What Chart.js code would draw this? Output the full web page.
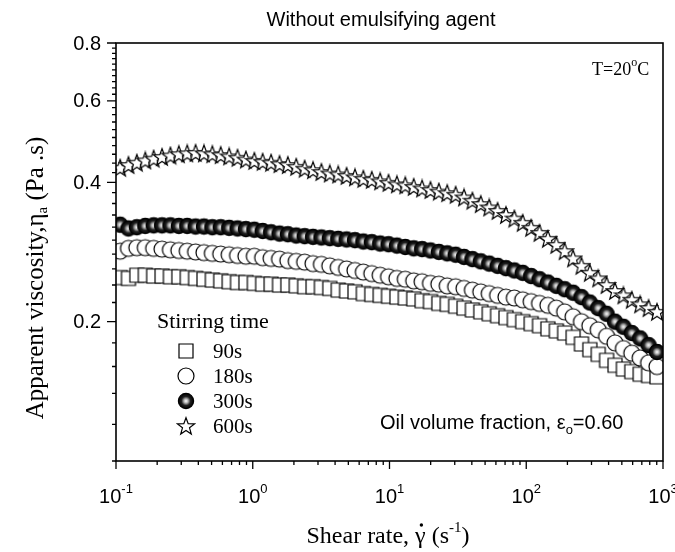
<!DOCTYPE html>
<html>
<head>
<meta charset="utf-8">
<script src="https://cdn.jsdelivr.net/npm/chart.js@4.4.1/dist/chart.umd.min.js"></script>
<style>
body{margin:0;background:#fff;}
#contenedor{width:675px;height:552px;}
</style>
</head>
<body>
<div id="contenedor"><canvas id="grafica"></canvas></div>
<script>
//datos
const shearRate=[0.1072,0.1234,0.1421,0.1637,0.1885,0.2171,0.2500,0.2880,0.3317,0.3820,0.4399,0.5066,0.5834,0.6719,0.7738,0.8913,
1.027,1.182,1.362,1.569,1.806,2.080,2.396,2.760,3.178,3.660,4.215,4.856,5.591,6.440,7.417,8.542,
9.838,11.33,13.05,15.03,17.31,19.94,22.96,26.44,30.45,35.07,40.40,46.52,53.58,61.71,71.07,81.85,
94.26,108.6,125.0,144.0,165.9,191.0,220.0,253.4,291.7,336.0,387.0,445.8,513.3,591.2,680.9,784.3,903.3];
const visc90=[0.249,0.248,0.252,0.252,0.251,0.251,0.250,0.250,0.249,0.248,0.247,0.246,0.245,0.244,0.243,0.243,
0.242,0.241,0.241,0.240,0.240,0.239,0.238,0.238,0.237,0.236,0.234,0.233,0.232,0.230,0.229,0.228,
0.227,0.226,0.225,0.224,0.222,0.221,0.219,0.218,0.216,0.214,0.212,0.210,0.208,0.206,0.204,0.202,
0.200,0.198,0.196,0.193,0.191,0.189,0.185,0.179,0.174,0.170,0.165,0.161,0.158,0.156,0.154,0.153,0.152];
const visc180=[0.284,0.288,0.289,0.289,0.288,0.287,0.286,0.285,0.284,0.283,0.282,0.281,0.280,0.279,0.278,0.277,
0.277,0.275,0.274,0.273,0.271,0.270,0.269,0.267,0.266,0.264,0.262,0.260,0.258,0.256,0.254,0.252,
0.250,0.248,0.247,0.245,0.244,0.242,0.241,0.239,0.238,0.236,0.234,0.232,0.230,0.228,0.226,0.225,
0.223,0.221,0.219,0.217,0.214,0.210,0.205,0.200,0.196,0.192,0.186,0.180,0.175,0.171,0.167,0.163,0.160];
const visc300=[0.324,0.318,0.320,0.322,0.323,0.323,0.323,0.322,0.322,0.321,0.321,0.320,0.320,0.319,0.318,0.317,
0.316,0.314,0.312,0.310,0.309,0.307,0.306,0.305,0.304,0.303,0.302,0.301,0.300,0.298,0.297,0.295,
0.294,0.292,0.290,0.288,0.287,0.285,0.283,0.281,0.279,0.276,0.273,0.270,0.267,0.264,0.261,0.258,
0.255,0.251,0.247,0.243,0.239,0.235,0.231,0.226,0.220,0.214,0.208,0.200,0.195,0.189,0.184,0.178,0.172];
const visc600=[0.430,0.436,0.441,0.446,0.450,0.454,0.457,0.460,0.462,0.463,0.462,0.460,0.458,0.455,0.452,0.448,
0.445,0.443,0.441,0.438,0.436,0.432,0.428,0.425,0.421,0.418,0.416,0.413,0.410,0.407,0.405,0.402,
0.399,0.396,0.394,0.391,0.388,0.385,0.382,0.379,0.376,0.371,0.365,0.359,0.353,0.347,0.340,0.334,
0.327,0.319,0.311,0.302,0.293,0.284,0.274,0.264,0.255,0.248,0.240,0.233,0.228,0.223,0.218,0.214,0.210];
const etiquetas=['90s','180s','300s','600s'];
const xMayores=[0.1,1,10,100,1000];
const xExponentes=['-1','0','1','2','3'];
const yMayores=[0.2,0.4,0.6,0.8];
const yEtiquetas=['0.2','0.4','0.6','0.8'];

const sans='"Liberation Sans", Arial, sans-serif';
const serif='"Liberation Serif", "Times New Roman", serif';

//marcadores dibujados a mano
function marcador(tipo){
  const c=document.createElement('canvas');
  c.width=20;c.height=20;
  const ctx=c.getContext('2d');
  ctx.lineWidth=1.2;
  ctx.strokeStyle='#000';
  ctx.fillStyle='#fff';
  ctx.beginPath();
  if(tipo=='cuadro'){
    ctx.rect(3,3,14,14);
    ctx.fill();ctx.stroke();
  }
  else if(tipo=='circulo'){
    ctx.arc(10,10,8,0,Math.PI*2);
    ctx.fill();ctx.stroke();
  }
  else if(tipo=='esfera'){
    const g=ctx.createRadialGradient(10,10,0,10,10,7.6);
    g.addColorStop(0,'#ffffff');
    g.addColorStop(0.28,'#b0b0b0');
    g.addColorStop(0.6,'#202020');
    g.addColorStop(1,'#000000');
    ctx.fillStyle=g;
    ctx.arc(10,10,7.6,0,Math.PI*2);
    ctx.fill();
    ctx.strokeStyle='#000';
    ctx.stroke();
  }
  else{
    for(let k=0;k<10;k++){
      const r=(k%2==0)?9:3.7;
      const a=-Math.PI/2+k*Math.PI/5;
      const px=10+r*Math.cos(a), py=10.7+r*Math.sin(a);
      if(k==0) ctx.moveTo(px,py); else ctx.lineTo(px,py);
    }
    ctx.closePath();
    ctx.fill();ctx.stroke();
  }
  return c;
}
const marcadores=[marcador('cuadro'),marcador('circulo'),marcador('esfera'),marcador('estrella')];

function puntos(serie){
  return shearRate.map((x,i)=>({x:x,y:serie[i]}));
}

//texto con sub/superindice: partes = [[texto, tamaño, desplazamiento]]
function textoCompuesto(ctx,partes,x,y,familia,centrado){
  let total=0;
  partes.forEach(p=>{ctx.font=p[1]+'px '+familia;total+=ctx.measureText(p[0]).width;});
  let cx=centrado?x-total/2:x;
  partes.forEach(p=>{
    ctx.font=p[1]+'px '+familia;
    ctx.fillText(p[0],cx,y+p[2]);
    cx+=ctx.measureText(p[0]).width;
  });
  return total;
}

const decorado={
  id:'decorado',
  afterDatasetsDraw(chart){
    const ctx=chart.ctx;
    const a=chart.chartArea;
    const sx=chart.scales.x, sy=chart.scales.y;
    ctx.save();
    ctx.strokeStyle='#000';
    ctx.fillStyle='#000';
    //marco
    ctx.lineWidth=1.6;
    ctx.strokeRect(a.left,a.top,a.right-a.left,a.bottom-a.top);
    //ticks x
    ctx.lineWidth=1.3;
    ctx.beginPath();
    xMayores.forEach((d,i)=>{
      const px=sx.getPixelForValue(d);
      ctx.moveTo(px,a.bottom);ctx.lineTo(px,a.bottom+8);
      if(i<xMayores.length-1){
        for(let m=2;m<=9;m++){
          const pm=sx.getPixelForValue(d*m);
          ctx.moveTo(pm,a.bottom);ctx.lineTo(pm,a.bottom+4);
        }
      }
    });
    //ticks y
    for(let v=0.1;v<=0.801;v+=0.02){
      const py=sy.getPixelForValue(v);
      ctx.moveTo(a.left,py);ctx.lineTo(a.left-4,py);
    }
    yMayores.forEach(v=>{
      const py=sy.getPixelForValue(v);
      ctx.moveTo(a.left,py);ctx.lineTo(a.left-9,py);
    });
    ctx.stroke();
    //etiquetas y
    ctx.textBaseline='middle';
    ctx.textAlign='right';
    ctx.font='20px '+sans;
    yMayores.forEach((v,i)=>{
      ctx.fillText(yEtiquetas[i],a.left-15,sy.getPixelForValue(v)+1);
    });
    //etiquetas x
    ctx.textAlign='left';
    xMayores.forEach((d,i)=>{
      textoCompuesto(ctx,[['10',20,0],[xExponentes[i],13,-8]],sx.getPixelForValue(d),a.bottom+36,sans,true);
    });
    //titulo
    textoCompuesto(ctx,[['Without emulsifying agent',20,0]],381,20,sans,true);
    //titulo eje x
    const wx=textoCompuesto(ctx,[['Shear rate, ',24,0],['\u03b3',24,0],[' (s',24,0],['-1',15,-9],[')',24,0]],388,537,serif,true);
    ctx.font='24px '+serif;
    const gx=388-wx/2+ctx.measureText('Shear rate, ').width+ctx.measureText('\u03b3').width/2;
    ctx.beginPath();
    ctx.arc(gx+1,525,1.7,0,Math.PI*2);
    ctx.fill();
    //titulo eje y
    ctx.save();
    ctx.translate(36,278);
    ctx.rotate(-Math.PI/2);
    textoCompuesto(ctx,[['Apparent viscosity,',25,0],['\u03b7',25,0],['a',15,7],[' (Pa .s)',25,0]],0,0,serif,true);
    ctx.restore();
    //anotaciones
    textoCompuesto(ctx,[['T=20',18,0],['o',12,-7],['C',18,0]],592,70,serif,false);
    textoCompuesto(ctx,[['Oil volume fraction, \u03b5',20,0],['o',13,7],['=0.60',20,0]],380,423,sans,false);
    //leyenda
    ctx.font='22px '+serif;
    ctx.fillText('Stirring time',157,322);
    ctx.font='21px '+serif;
    const yLeyenda=[351,376,401,426];
    etiquetas.forEach((e,i)=>{
      const m=marcadores[i];
      ctx.drawImage(m,186-m.width/2,yLeyenda[i]-m.height/2);
      ctx.fillText(e,213,yLeyenda[i]+1);
    });
    ctx.restore();
  }
};

const grafica=document.getElementById('grafica');
new Chart(grafica,{
  type:'scatter',
  data:{
    datasets:[
      {label:etiquetas[0],data:puntos(visc90),pointStyle:marcadores[0],pointRadius:8,order:4,clip:0},
      {label:etiquetas[1],data:puntos(visc180),pointStyle:marcadores[1],pointRadius:8,order:3,clip:0},
      {label:etiquetas[2],data:puntos(visc300),pointStyle:marcadores[2],pointRadius:8,order:2,clip:0},
      {label:etiquetas[3],data:puntos(visc600),pointStyle:marcadores[3],pointRadius:8,order:1,clip:0}
    ]
  },
  options:{
    responsive:true,
    maintainAspectRatio:false,
    animation:false,
    layout:{padding:{left:116,top:43,right:12,bottom:91}},
    plugins:{legend:{display:false},tooltip:{enabled:false}},
    scales:{
      x:{type:'logarithmic',min:0.1,max:1000,display:false},
      y:{type:'logarithmic',min:0.1,max:0.8,display:false}
    }
  },
  plugins:[decorado]
});
</script>
</body>
</html>
